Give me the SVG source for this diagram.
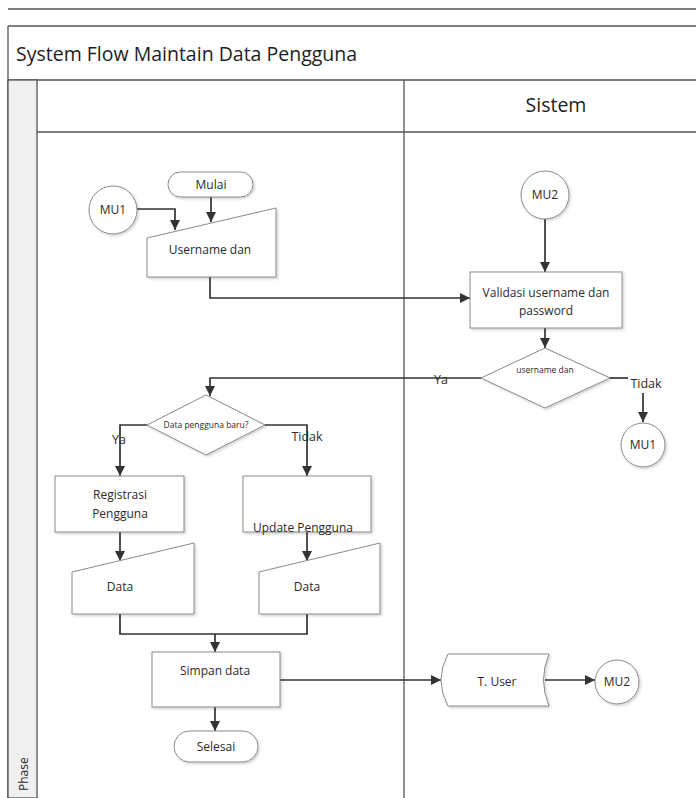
<svg xmlns="http://www.w3.org/2000/svg" width="696" height="798" viewBox="0 0 696 798">
<defs>
<marker id="ah" viewBox="0 0 10 10" refX="10" refY="5" markerWidth="10" markerHeight="10" markerUnits="userSpaceOnUse" orient="auto">
<path d="M0,0 L10,5 L0,10 z" fill="#333"/>
</marker>
<filter id="sh" x="-10%" y="-10%" width="130%" height="130%">
<feDropShadow dx="1.5" dy="1.5" stdDeviation="1" flood-color="#000" flood-opacity="0.18"/>
</filter>
</defs>
<style>
.frame{fill:none;stroke:#555;stroke-width:1.3}
.shape{fill:#fff;stroke:#8a8a8a;stroke-width:1;filter:url(#sh)}
.conn{fill:none;stroke:#333;stroke-width:1.7}
.arr{marker-end:url(#ah)}
text{font-family:"Open Sans","Liberation Sans",sans-serif;fill:#2a2a2a;text-anchor:middle}
.t{font-size:12px}
.l{font-size:12.5px}
.s{font-size:8.5px}
.h{font-size:19.5px;fill:#1e1e1e}
</style>
<rect x="0" y="0" width="696" height="798" fill="#fff"/>
<g id="pool">
<line class="frame" x1="8" y1="9" x2="696" y2="9" stroke="#888"/>
<line class="frame" x1="8" y1="26" x2="696" y2="26"/>
<line class="frame" x1="8" y1="80" x2="696" y2="80"/>
<line class="frame" x1="8" y1="26" x2="8" y2="798"/>
<rect x="8" y="80" width="29" height="718" fill="#f0f0f0" stroke="#555" stroke-width="1.3"/>
<line class="frame" x1="37" y1="132" x2="696" y2="132"/>
<line class="frame" x1="404" y1="80" x2="404" y2="798"/>
<text class="h" x="16" y="61" style="text-anchor:start">System Flow Maintain Data Pengguna</text>
<text class="h" x="556" y="112">Sistem</text>
<text x="28" y="791" font-size="12" transform="rotate(-90 28 791)" style="text-anchor:start">Phase</text>
</g>
<g id="connectors">
<path class="conn arr" d="M211,197 V222"/>
<path class="conn arr" d="M137,209 H175 V230"/>
<path class="conn arr" d="M210,277 V298 H470"/>
<path class="conn arr" d="M545,219 V272"/>
<path class="conn arr" d="M545,328 V348"/>
<path class="conn arr" d="M481,378 H210 V396"/>
<path class="conn" d="M610,378 H628"/>
<path class="conn arr" d="M643,393 V422"/>
<path class="conn arr" d="M147,425 H120 V476"/>
<path class="conn arr" d="M265,425 H307 V476"/>
<path class="conn arr" d="M120,532 V561"/>
<path class="conn arr" d="M307,532 V561"/>
<path class="conn" d="M120,614 V634 H307 V614"/>
<path class="conn arr" d="M215,634 V652"/>
<path class="conn arr" d="M280,680 H441"/>
<path class="conn arr" d="M545,680 H595"/>
<path class="conn arr" d="M215,707 V731"/>
<text class="l" x="441" y="384">Ya</text>
<text class="l" x="646" y="388">Tidak</text>
<text class="l" x="119" y="444">Ya</text>
<text class="l" x="307" y="441">Tidak</text>
</g>
<g id="mu1a">
<circle class="shape" cx="113" cy="210" r="24"/>
<text class="t" x="113" y="214">MU1</text>
</g>
<g id="mulai">
<rect class="shape" x="168" y="172" width="85" height="25" rx="12.5"/>
<text class="t" x="211" y="189">Mulai</text>
</g>
<g id="username">
<path class="shape" d="M147,238 L276,208 V277 H147 z"/>
<text class="t" x="210" y="254">Username dan</text>
</g>
<g id="mu2a">
<circle class="shape" cx="545" cy="195" r="24"/>
<text class="t" x="545" y="199">MU2</text>
</g>
<g id="validasi">
<rect class="shape" x="470" y="272" width="152" height="56"/>
<text class="t" x="546" y="297">Validasi username dan</text>
<text class="t" x="546" y="315">password</text>
</g>
<g id="cek">
<path class="shape" d="M545,348 L610,378 L545,408 L481,378 z"/>
<text class="s" x="545" y="373">username dan</text>
</g>
<g id="mu1b">
<circle class="shape" cx="643" cy="445" r="22"/>
<text class="t" x="643" y="449">MU1</text>
</g>
<g id="baru">
<path class="shape" d="M206,395 L265,425 L206,455 L147,425 z"/>
<text class="s" x="206" y="428">Data pengguna baru?</text>
</g>
<g id="registrasi">
<rect class="shape" x="55" y="476" width="129" height="56"/>
<text class="t" x="120" y="499">Registrasi</text>
<text class="t" x="120" y="518">Pengguna</text>
</g>
<g id="update">
<rect class="shape" x="243" y="476" width="128" height="56"/>
<text class="t" x="303" y="532">Update Pengguna</text>
</g>
<g id="data1">
<path class="shape" d="M72,572 L194,543 V614 H72 z"/>
<text class="t" x="120" y="591">Data</text>
</g>
<g id="data2">
<path class="shape" d="M259,572 L380,543 V614 H259 z"/>
<text class="t" x="307" y="591">Data</text>
</g>
<g id="simpan">
<rect class="shape" x="152" y="652" width="128" height="55"/>
<text class="t" x="215" y="675">Simpan data</text>
</g>
<g id="tuser">
<path class="shape" d="M448,654 H549 Q538,680 549,706 H448 Q434,680 448,654 z"/>
<text class="t" x="497" y="686">T. User</text>
</g>
<g id="mu2b">
<circle class="shape" cx="617" cy="682" r="22"/>
<text class="t" x="617" y="686">MU2</text>
</g>
<g id="selesai">
<rect class="shape" x="174" y="731" width="84" height="31" rx="15.5"/>
<text class="t" x="216" y="751">Selesai</text>
</g>
</svg>
